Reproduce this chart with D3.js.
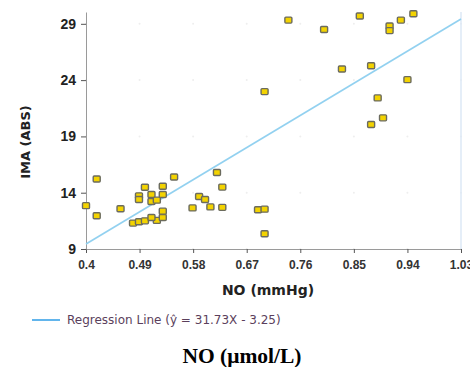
<!DOCTYPE html>
<html>
<head>
<meta charset="utf-8">
<script src="https://cdn.jsdelivr.net/npm/d3@7"></script>
<style>
  body { margin: 0; background: #fff; }
  svg { display: block; }
</style>
</head>
<body>
<div class="scatter"></div>
<script>
// data
var noValues = [0.400, 0.418, 0.418, 0.458, 0.479, 0.489, 0.499, 0.489, 0.489, 0.499,
                0.510, 0.510, 0.519, 0.519, 0.510, 0.529, 0.529, 0.529, 0.529, 0.548,
                0.579, 0.590, 0.600, 0.609, 0.620, 0.629, 0.629, 0.689, 0.700, 0.700,
                0.700, 0.740, 0.800, 0.830, 0.860, 0.879, 0.879, 0.890, 0.899, 0.910,
                0.910, 0.929, 0.940, 0.950];
var imaValues = [12.85, 15.22, 11.95, 12.57, 11.30, 11.42, 11.50, 13.72, 13.40, 14.49,
                 13.84, 13.22, 13.34, 11.54, 11.80, 11.80, 12.36, 13.84, 14.57, 15.40,
                 12.65, 13.66, 13.40, 12.74, 15.80, 14.50, 12.70, 12.48, 12.54, 10.35,
                 22.98, 29.33, 28.50, 24.99, 29.70, 25.28, 20.06, 22.42, 20.65, 28.80,
                 28.40, 29.33, 24.04, 29.90];
var xTicks = [0.4, 0.49, 0.58, 0.67, 0.76, 0.85, 0.94, 1.03];
var yTicks = [9, 14, 19, 24, 29];
var slope = 31.73;
var intercept = -3.25;

var svgWidth = 470;
var svgHeight = 367;
var margin = { top: 12, bottom: 118, right: 9, left: 86 };
var width = svgWidth - margin.left - margin.right;
var height = svgHeight - margin.top - margin.bottom;

var svg = d3.select(".scatter").append("svg")
    .attr("width", svgWidth)
    .attr("height", svgHeight)
    .style("font-family", "'DejaVu Sans', Verdana, sans-serif");

var chartGroup = svg.append("g")
    .attr("transform", `translate(${margin.left}, ${margin.top})`);

var x = d3.scaleLinear().domain([0.4, 1.03]).range([0, width]);
var y = d3.scaleLinear().domain([9, 30.05]).range([height, 0]);

// faint grid dots at tick crossings
xTicks.forEach(function(tx) {
    yTicks.forEach(function(ty) {
        chartGroup.append("circle")
            .attr("cx", x(tx)).attr("cy", y(ty)).attr("r", 1)
            .attr("fill", "#eeeeee");
    });
});

// right border
chartGroup.append("line")
    .attr("x1", width).attr("x2", width)
    .attr("y1", 0).attr("y2", height)
    .attr("stroke", "#dde8f6").attr("stroke-width", 1.5);

// axes
var bottomAxis = d3.axisBottom(x).tickValues(xTicks).tickSize(4).tickSizeOuter(0)
    .tickFormat(d => d3.format("")(+d.toFixed(2)));
var leftAxis = d3.axisLeft(y).tickValues(yTicks).tickSize(5).tickSizeOuter(0);

var xg = chartGroup.append("g")
    .attr("transform", `translate(0, ${height})`)
    .call(bottomAxis);
xg.select(".domain").attr("stroke", "#9a9a9a");
xg.selectAll(".tick line").attr("stroke", "#555");
xg.selectAll("text")
    .attr("dy", "0.71em").attr("y", 11)
    .style("font-size", "12px").style("font-weight", "bold").attr("fill", "#333");

var yg = chartGroup.append("g").call(leftAxis);
yg.select(".domain").attr("stroke", "#9a9a9a");
yg.selectAll(".tick line").attr("stroke", "#555");
yg.selectAll("text")
    .attr("x", -10)
    .style("font-size", "14px").style("font-weight", "bold").attr("fill", "#222");

// regression line
chartGroup.append("line")
    .attr("x1", x(0.4)).attr("y1", y(slope * 0.4 + intercept))
    .attr("x2", x(1.03)).attr("y2", y(slope * 1.03 + intercept))
    .attr("stroke", "#92d1f0").attr("stroke-width", 1.6);

// points
chartGroup.selectAll("rect.pt")
    .data(noValues)
    .enter()
    .append("rect")
    .attr("class", "pt")
    .attr("x", (d, i) => x(d) - 3.5)
    .attr("y", (d, i) => y(imaValues[i]) - 3)
    .attr("width", 7)
    .attr("height", 6)
    .attr("rx", 1)
    .attr("fill", "#f3d300")
    .attr("stroke", "#6b6b5e")
    .attr("stroke-width", 1.4);

// axis titles
svg.append("text")
    .attr("transform", "translate(30, 142) rotate(-90)")
    .attr("text-anchor", "middle")
    .style("font-size", "13px").style("font-weight", "bold").attr("fill", "#222")
    .text("IMA (ABS)");

svg.append("text")
    .attr("x", 268).attr("y", 295)
    .attr("text-anchor", "middle")
    .style("font-size", "14px").style("font-weight", "bold").attr("fill", "#222")
    .text("NO (mmHg)");

// legend
svg.append("line")
    .attr("x1", 32).attr("x2", 60).attr("y1", 320).attr("y2", 320)
    .attr("stroke", "#3aa3e8").attr("stroke-width", 1.6);
svg.append("text")
    .attr("x", 67).attr("y", 324)
    .style("font-size", "12px").attr("fill", "#5b3f5c")
    .text("Regression Line (ŷ = 31.73X - 3.25)");

// caption below
svg.append("text")
    .attr("x", 242).attr("y", 363)
    .attr("text-anchor", "middle")
    .style("font-family", "'Liberation Serif', 'Times New Roman', serif")
    .style("font-size", "21.5px").style("font-weight", "bold").attr("fill", "#000")
    .text("NO (μmol/L)");
</script>
</body>
</html>
